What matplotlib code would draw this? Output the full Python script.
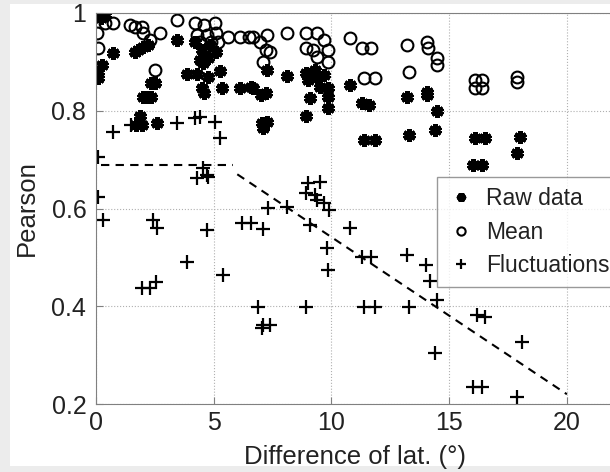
import matplotlib.pyplot as plt
from matplotlib.patches import Rectangle

plt.rcParams['font.family'] = ['Liberation Sans', 'DejaVu Sans']

# raw data (filled stars)
raw_x = [0.2, 0.3, 0.4, 0.72, 0.25, 0.1, 0.1, 1.65, 1.8, 2.0, 2.2, 2.35, 2.5, 2.0, 2.2, 2.35,
         1.87, 1.7, 1.95, 2.6, 3.44, 3.86, 4.29, 4.76, 5.27, 4.5, 4.6, 5.35,
         4.2, 4.5, 4.84, 5.1, 4.4, 4.76, 4.55, 6.1, 6.67,
         7.26, 8.1, 6.6, 7.0, 7.2, 7.05, 7.25, 7.1,
         8.9, 9.0, 9.3, 9.4, 9.7, 9.5, 9.85, 9.1, 9.85, 9.85, 8.9,
         10.8, 11.3, 11.6, 11.4, 11.85, 13.2, 13.3, 14.05,
         14.05, 14.5, 14.4, 16.1, 16.5, 18.0, 17.9, 16.0, 16.4]
raw_y = [0.99, 1.0, 0.995, 0.918, 0.894, 0.88, 0.867, 0.92, 0.925, 0.93, 0.935, 0.857, 0.857, 0.828, 0.828, 0.828,
         0.79, 0.77, 0.77, 0.775, 0.945, 0.875, 0.875, 0.869, 0.882, 0.846, 0.836, 0.847,
         0.94, 0.925, 0.935, 0.92, 0.904, 0.908, 0.898, 0.847, 0.847,
         0.883, 0.871, 0.849, 0.832, 0.836, 0.775, 0.777, 0.765,
         0.877, 0.863, 0.883, 0.869, 0.873, 0.849, 0.847, 0.826, 0.828, 0.805, 0.79,
         0.853, 0.816, 0.812, 0.74, 0.74, 0.828, 0.75, 0.838,
         0.832, 0.80, 0.76, 0.744, 0.744, 0.747, 0.714, 0.689, 0.689]

# mean (open circles)
mean_x = [0.38, 0.72, 0.04, 0.08, 0.25,
          1.44, 1.66, 1.95, 2.0, 2.3, 2.7, 2.5,
          3.44, 4.2, 4.6, 5.05, 4.3, 4.7, 5.1, 5.6, 4.4, 4.9, 5.2,
          6.1, 6.5, 6.67, 7.26, 6.96, 7.2, 7.4, 7.1,
          8.1, 8.9, 9.4, 9.7, 8.9, 9.2, 9.85, 9.4, 9.85,
          10.8, 11.3, 11.7, 11.4, 11.85, 13.2, 13.3, 14.05,
          14.1, 14.5, 14.5, 16.1, 16.4, 16.1, 16.4, 17.9, 17.9]
mean_y = [0.98, 0.98, 0.96, 0.928, 0.995,
          0.975, 0.972, 0.972, 0.96, 0.945, 0.96, 0.883,
          0.986, 0.98, 0.975, 0.98, 0.955, 0.955, 0.96, 0.95, 0.94, 0.94, 0.94,
          0.95, 0.95, 0.951, 0.955, 0.94, 0.925, 0.92, 0.9,
          0.96, 0.96, 0.96, 0.945, 0.928, 0.924, 0.924, 0.91, 0.9,
          0.949, 0.928, 0.928, 0.867, 0.867, 0.935, 0.88, 0.94,
          0.928, 0.908, 0.894, 0.863, 0.863, 0.847, 0.847, 0.869, 0.859]

# fluctuations (plus)
fl_x = [0.08, 0.08, 0.3, 0.72, 1.5, 2.4, 2.6, 3.44, 4.2, 4.4, 5.05, 5.27,
        4.55, 4.7, 4.3, 4.75, 4.7, 3.86, 1.95, 2.3, 2.55, 5.4, 6.2, 6.6, 7.1,
        9.0, 9.5, 8.9, 9.3, 9.4, 9.7, 9.9, 7.3, 8.1, 9.1, 10.8, 9.8, 9.85,
        11.3, 11.7, 13.2, 14.0, 14.2, 14.5,
        6.9, 8.9, 11.4, 11.85, 13.3, 7.1, 7.4, 7.05,
        16.2, 16.5, 18.1, 14.4, 16.0, 16.4, 17.9]
fl_y = [0.706, 0.624, 0.577, 0.757, 0.77, 0.577, 0.56, 0.775, 0.785, 0.787, 0.777, 0.744,
        0.683, 0.669, 0.663, 0.665, 0.556, 0.491, 0.438, 0.438, 0.45, 0.464, 0.571, 0.571, 0.558,
        0.652, 0.654, 0.632, 0.628, 0.618, 0.611, 0.597, 0.601, 0.603, 0.566, 0.56, 0.519, 0.474,
        0.501, 0.501, 0.505, 0.485, 0.452, 0.412,
        0.399, 0.399, 0.399, 0.399, 0.399, 0.362, 0.362, 0.356,
        0.382, 0.378, 0.327, 0.305, 0.235, 0.235, 0.215]

# dashed threshold lines
flat_x = [0.2, 5.8]
flat_y = [0.69, 0.69]
slope_x = [6.0, 20.0]
slope_y = [0.67, 0.22]

fig = plt.figure(figsize=(6.1, 4.72), dpi=100, facecolor='#ececec')
fig.add_artist(Rectangle((10 / 610, 6 / 472), 1, 462 / 472, transform=fig.transFigure,
                         facecolor='white', edgecolor='none', zorder=-10))
ax = fig.add_axes([96 / 610, 68 / 472, 518 / 610, 391 / 472])

ax.plot(flat_x, flat_y, 'k--', lw=1.5, dashes=(4, 3))
ax.plot(slope_x, slope_y, 'k--', lw=1.5, dashes=(4, 3))
ax.plot(raw_x, raw_y, ls='none', marker=(6, 2, 0), ms=9, mew=3.2, color='k', label='Raw data')
ax.plot(mean_x, mean_y, ls='none', marker='o', ms=8.5, mfc='none', mec='k', mew=1.5, label='Mean')
ax.plot(fl_x, fl_y, ls='none', marker='+', ms=10, mew=1.6, color='k', label='Fluctuations')

ax.set_xlim(0, 22)
ax.set_ylim(0.2, 1)
ax.set_xticks([0, 5, 10, 15, 20])
ax.set_yticks([0.2, 0.4, 0.6, 0.8, 1])
ax.set_yticklabels(['0.2', '0.4', '0.6', '0.8', '1'])
ax.tick_params(direction='in', length=5, color='#808080', labelsize=18, labelcolor='#222222')
ax.tick_params(axis='y', pad=7)
ax.tick_params(axis='x', pad=5)
ax.grid(True, ls=':', color='#b0b0b0', lw=0.8)
for s in ax.spines.values():
    s.set_color('#808080')

ax.set_xlabel('Difference of lat. (°)', fontsize=18.5, labelpad=7, color='#222222')
ax.set_ylabel('Pearson', fontsize=18.5, labelpad=9, color='#222222')

leg = ax.legend(loc='upper left', bbox_to_anchor=((437 - 96) / 518, 1 - (177 - 13) / 391),
                fontsize=16.5, frameon=True, fancybox=False, edgecolor='#808080',
                borderpad=0.45, borderaxespad=0, handletextpad=0.5, labelspacing=0.45,
                handlelength=1.2, markerscale=0.7)
leg.get_frame().set_linewidth(1)
for t in leg.get_texts():
    t.set_color('#222222')

fig.savefig('out.png', dpi=100, facecolor=fig.get_facecolor())
